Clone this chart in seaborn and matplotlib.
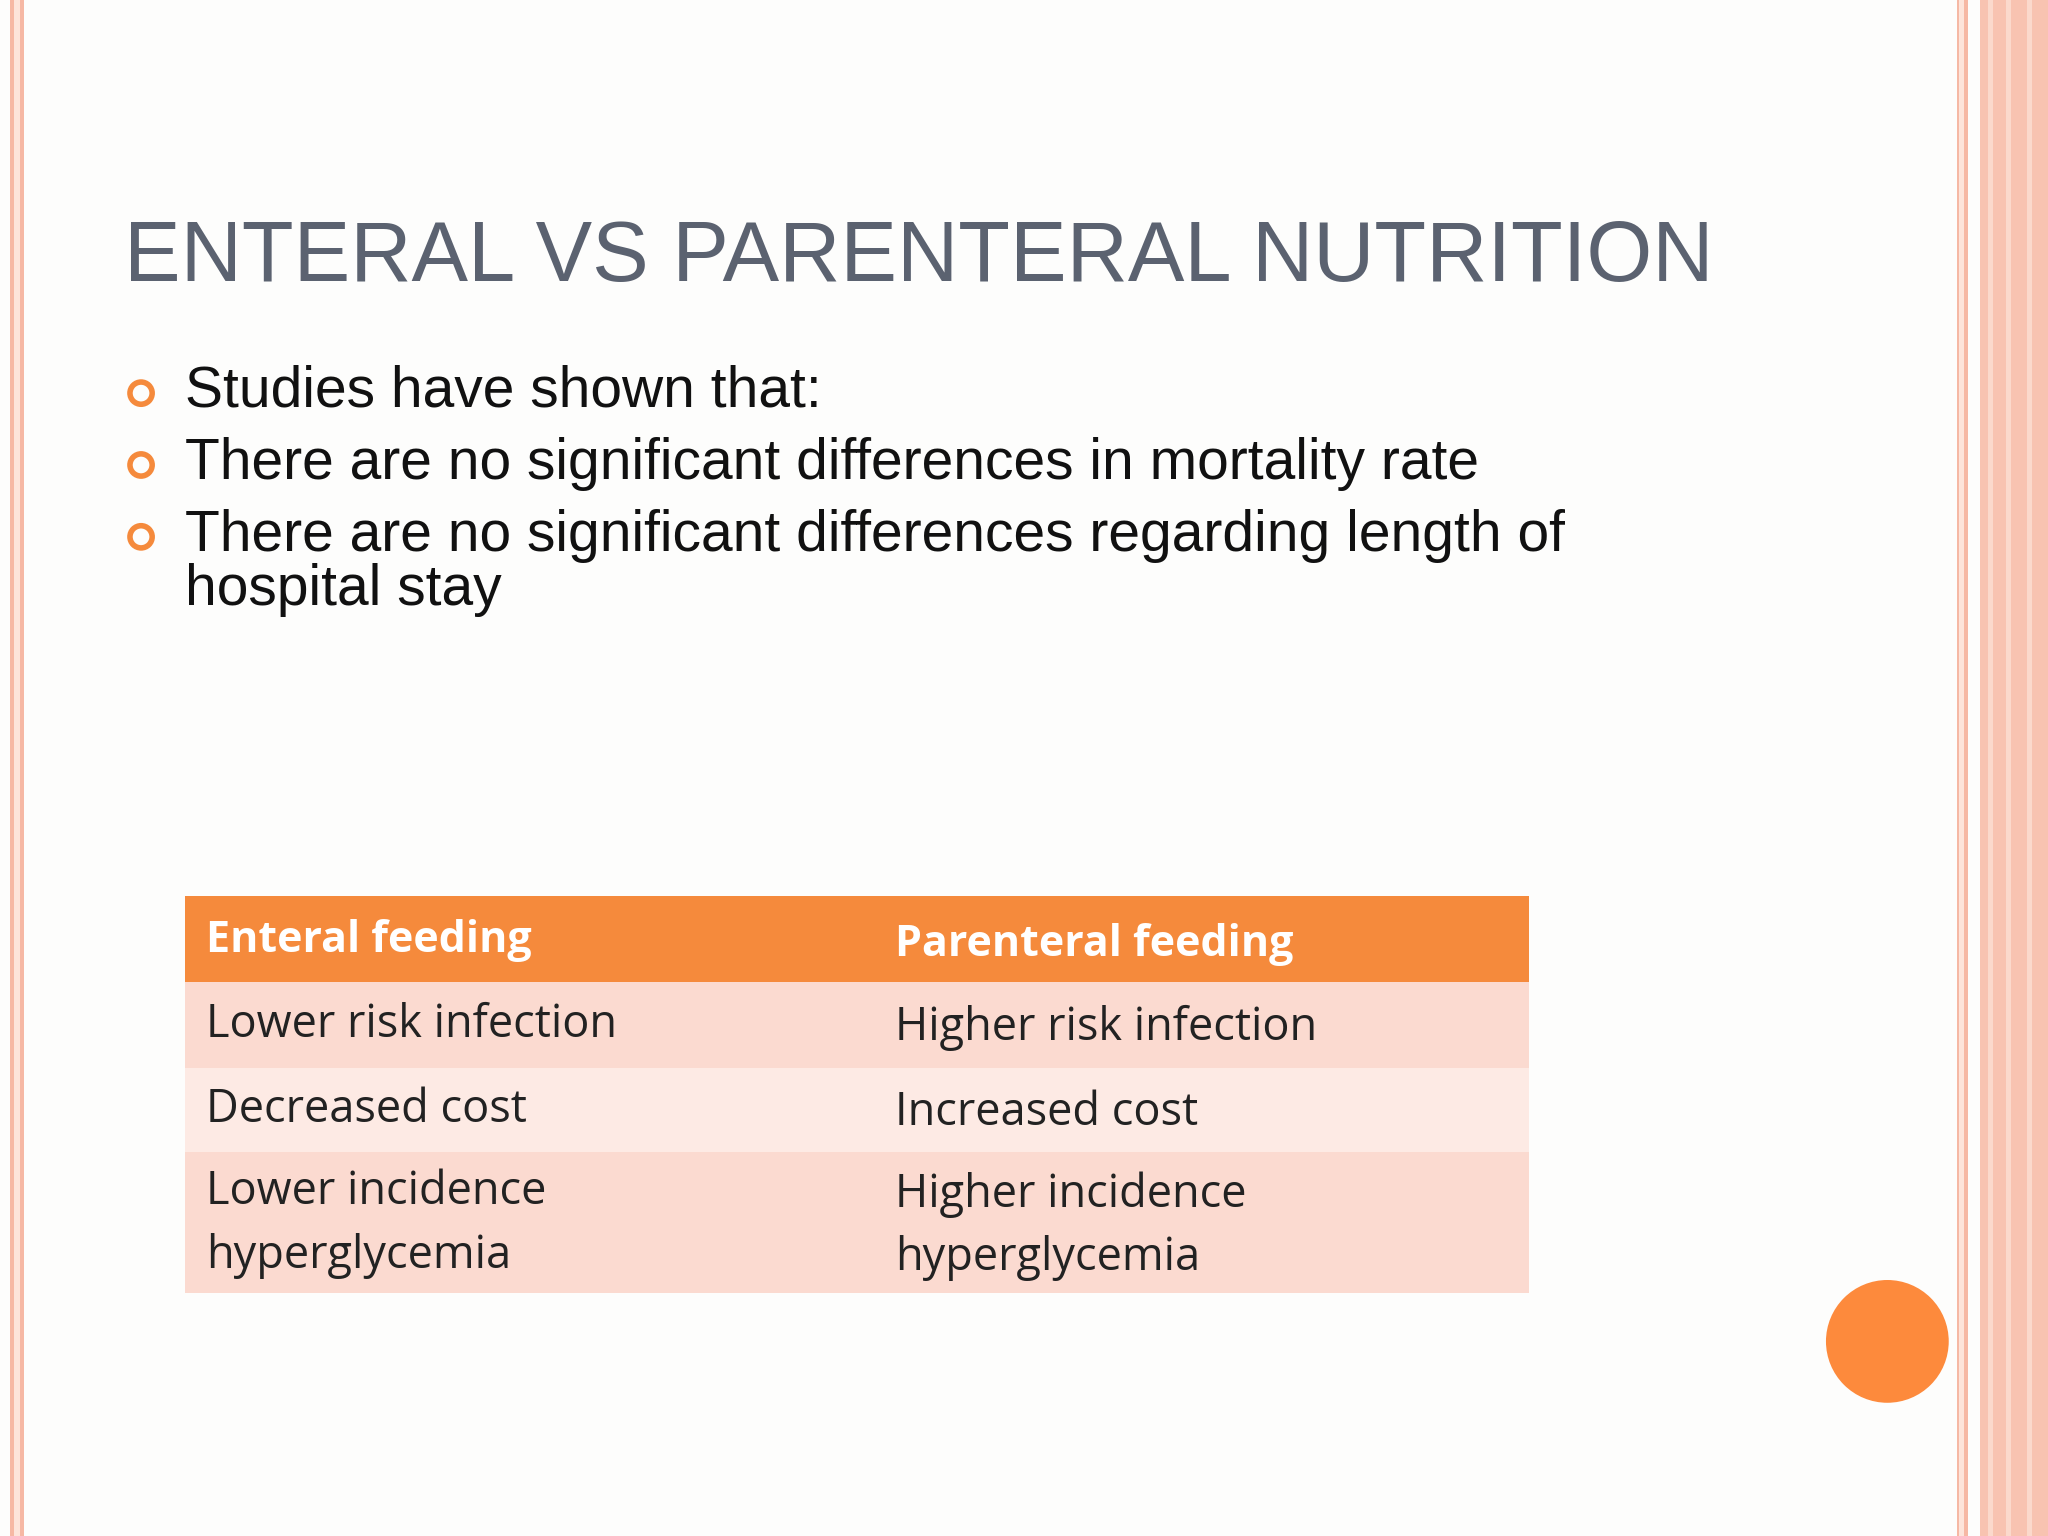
import matplotlib
matplotlib.use("Agg")
import matplotlib.pyplot as plt
import seaborn as sns
from matplotlib.patches import Rectangle, Ellipse

sns.set_style("white")
plt.rcParams['font.family'] = ['Liberation Sans', 'DejaVu Sans']

title = "ENTERAL VS PARENTERAL NUTRITION"
bullets = [["Studies have shown that:"],
           ["There are no significant differences in mortality rate"],
           ["There are no significant differences regarding length of", "hospital stay"]]
headers = ["Enteral feeding", "Parenteral feeding"]
col_enteral = [["Lower risk infection"], ["Decreased cost"], ["Lower incidence", "hyperglycemia"]]
col_parenteral = [["Higher risk infection"], ["Increased cost"], ["Higher incidence", "hyperglycemia"]]

W, H = 1568, 1176
fig = plt.figure(figsize=(20.48, 15.36), dpi=100)
fig.patch.set_facecolor("#fdfdfc")
ax = fig.add_axes([0, 0, 1, 1])
ax.set_xlim(0, W); ax.set_ylim(H, 0); ax.axis("off")

def rect(x0, y0, x1, y1, c, **kw):
    ax.add_patch(Rectangle((x0, y0), x1 - x0, y1 - y0, color=c, lw=0, **kw))

# borders
rect(8, 0, 18, H, "#f6b8a4")
rect(11, 0, 15, H, "#fde4da")
rect(1498, 0, 1507, H, "#f6b8a4")
rect(1500, 0, 1504, H, "#fde4da")
rect(1516, 0, 1568, H, "#f8c3b1")
for x in [1522, 1536, 1552]:
    rect(x, 0, x + 4, H, "#fbd9cc")

ax.text(95, 198, title, fontsize=61, color="#5b6270", va="center", ha="left")

ys = [300, 355, 410]
for y, lines in zip(ys, bullets):
    ax.add_patch(Ellipse((108, y + 1), 17, 17, fill=False, ec="#f58a3c", lw=4))
    for k, line in enumerate(lines):
        ax.text(142, y + k * 42, line, fontsize=41, color="#111111", va="center", ha="left")

# table
tx0, tx1, cx = 142, 1171, 685
rect(tx0, 686, tx1, 752, "#f58a3c")
rect(tx0, 752, tx1, 818, "#fbdad0")
rect(tx0, 818, tx1, 882, "#fdeae4")
rect(tx0, 882, tx1, 990, "#fbdad0")
tf = ['Open Sans', 'DejaVu Sans']
ax.text(158, 720, headers[0], fontsize=31, color="white", fontweight="bold", va="center", family=tf)
ax.text(cx, 723, headers[1], fontsize=31, color="white", fontweight="bold", va="center", family=tf)
rows_y = [785, 850, 913]
for y, a, b in zip(rows_y, col_enteral, col_parenteral):
    for k, line in enumerate(a):
        ax.text(158, y + k * 49, line, fontsize=32.5, color="#222222", va="center", family=tf)
    for k, line in enumerate(b):
        ax.text(cx, y + 2 + k * 48, line, fontsize=32.5, color="#222222", va="center", family=tf)

ax.add_patch(Ellipse((1445, 1027), 94, 94, color="#fd8a3c", lw=0))

fig.savefig("out.png", dpi=100, facecolor=fig.get_facecolor())
